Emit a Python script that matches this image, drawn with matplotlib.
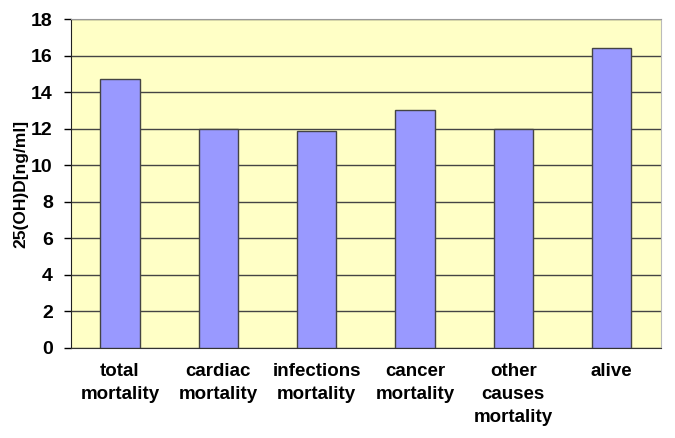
import matplotlib
matplotlib.use("Agg")
import matplotlib.pyplot as plt
import numpy as np

# data
categories = ["total\nmortality", "cardiac\nmortality", "infections\nmortality",
              "cancer\nmortality", "other\ncauses\nmortality", "alive"]
values = [14.7, 12.0, 11.9, 13.0, 12.0, 16.4]
yticks = [0, 2, 4, 6, 8, 10, 12, 14, 16, 18]

plt.rcParams['font.family'] = ['Liberation Sans', 'DejaVu Sans']
plt.rcParams['font.weight'] = 'bold'

fig = plt.figure(figsize=(6.75, 4.38), dpi=100)
ax = fig.add_axes([0.105, 0.2055, 0.874, 0.751])
ax.set_facecolor("#FFFFC6")

x = np.arange(len(categories))
ax.set_axisbelow(True)
ax.yaxis.grid(True, color="#444444", linewidth=1.0)
ax.bar(x, values, width=0.4, color="#9999FF", edgecolor="#444444", linewidth=1.0, zorder=3)

ax.set_xlim(-0.5, len(categories) - 0.5)
ax.set_ylim(0, 18)
ax.set_yticks(yticks)
ax.set_xticks(x)
ax.set_xticklabels(categories, fontsize=13.5, fontweight='bold', linespacing=1.45, va='top')
ax.tick_params(axis='x', length=0, pad=11)
ax.tick_params(axis='y', labelsize=14, length=5, width=1.0, direction='out', pad=8)
for lbl in ax.get_yticklabels():
    lbl.set_fontweight('bold')
ax.set_ylabel("25(OH)D[ng/ml]", fontsize=12.5, fontweight='bold', labelpad=2)

ax.spines['left'].set_color("#222222")
ax.spines['bottom'].set_color("#333333")
ax.spines['top'].set_color("#999999")
ax.spines['right'].set_color("#BBBBBB")

fig.savefig("out.png", dpi=100)
